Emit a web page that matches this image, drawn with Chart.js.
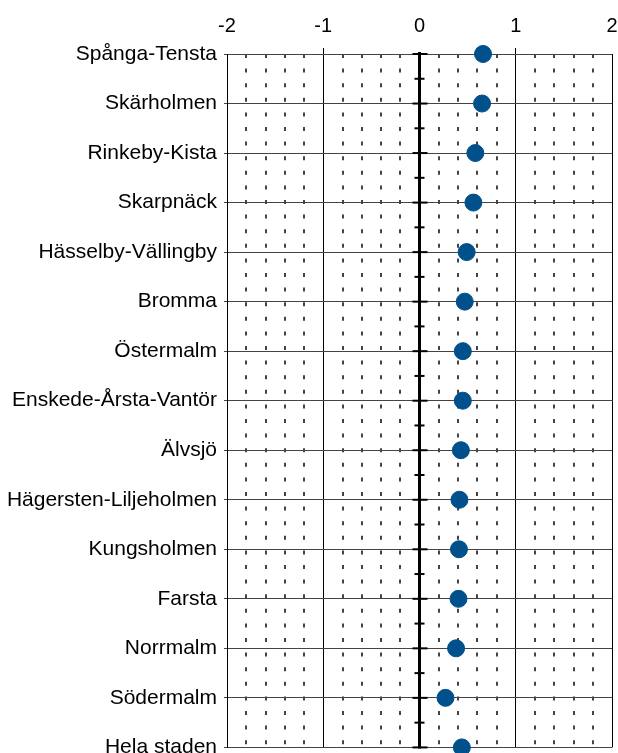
<!DOCTYPE html>
<html>
<head>
<meta charset="utf-8">
<script src="https://cdn.jsdelivr.net/npm/chart.js@4.4.1/dist/chart.umd.min.js"></script>
<style>
  html, body { margin: 0; padding: 0; background: #fff; overflow: hidden; }
  #wrap { position: relative; width: 618px; height: 767px; }
</style>
</head>
<body>
<div id="wrap"><canvas id="grafico"></canvas></div>
<script>
const omraden = ['Spånga-Tensta', 'Skärholmen', 'Rinkeby-Kista', 'Skarpnäck', 'Hässelby-Vällingby',
  'Bromma', 'Östermalm', 'Enskede-Årsta-Vantör', 'Älvsjö', 'Hägersten-Liljeholmen',
  'Kungsholmen', 'Farsta', 'Norrmalm', 'Södermalm', 'Hela staden'];
const varden = [0.66, 0.65, 0.58, 0.56, 0.49, 0.47, 0.45, 0.45, 0.43, 0.415, 0.41, 0.405, 0.38, 0.27, 0.44];
const xTicks = [-2, -1, 0, 1, 2];

const FONT = "'Liberation Sans', Arial, sans-serif";
const isInt = v => Math.abs(v - Math.round(v)) < 1e-6;

// thick zero axis with crossing tick marks
const nollAxel = {
  id: 'nollAxel',
  beforeDatasetsDraw(chart) {
    const { ctx, scales: { x, y } } = chart;
    const x0 = x.getPixelForValue(0);
    ctx.save();
    ctx.strokeStyle = '#000';
    ctx.lineWidth = 3;
    ctx.beginPath();
    ctx.moveTo(x0, y.getPixelForValue(0) - 2);
    ctx.lineTo(x0, y.getPixelForValue(omraden.length - 1) + 1);
    ctx.stroke();
    ctx.lineWidth = 2;
    for (let i = 0; i < omraden.length; i++) {
      const py = y.getPixelForValue(i);
      ctx.beginPath();
      ctx.moveTo(x0 - 7, py);
      ctx.lineTo(x0 + 8, py);
      ctx.stroke();
      if (i < omraden.length - 1) {
        const pm = y.getPixelForValue(i + 0.5);
        ctx.beginPath();
        ctx.moveTo(x0 - 5, pm);
        ctx.lineTo(x0 + 5, pm);
        ctx.stroke();
      }
    }
    ctx.restore();
  }
};

const nollPad = s => { s.paddingLeft = 0; s.paddingRight = 0; };

new Chart(document.getElementById('grafico'), {
  type: 'scatter',
  data: {
    datasets: [{
      data: varden.map((v, i) => ({ x: v, y: i })),
      backgroundColor: '#00508c',
      borderColor: '#00508c',
      pointRadius: 8.5,
      pointHoverRadius: 8.5,
      clip: false
    }]
  },
  options: {
    responsive: true,
    maintainAspectRatio: false,
    animation: false,
    events: [],
    layout: { autoPadding: false, padding: { left: 0, right: 6, top: 0, bottom: 0 } },
    plugins: { legend: { display: false }, tooltip: { enabled: false } },
    scales: {
      x: {
        type: 'linear',
        position: 'top',
        min: -2, max: 2,
        afterBuildTicks: s => { s.ticks = xTicks.map(v => ({ value: v })); },
        afterFit: s => { s.height = 54; nollPad(s); },
        ticks: { color: '#000', font: { family: FONT, size: 20 }, padding: 10 },
        grid: {
          color: '#000',
          lineWidth: 1,
          tickLength: 6,
          tickColor: c => (c.tick && Math.abs(c.tick.value) === 1) ? '#000' : 'rgba(0,0,0,0)'
        },
        border: { display: false }
      },
      x2: {
        type: 'linear',
        position: 'top',
        min: -2, max: 2,
        afterFit: s => { s.height = 0; nollPad(s); },
        ticks: { display: false, stepSize: 0.2 },
        grid: {
          drawTicks: false,
          color: c => (c.tick && !isInt(c.tick.value)) ? '#444' : 'rgba(0,0,0,0)',
          lineWidth: 2
        },
        border: { display: false, dash: [4, 10.6], dashOffset: 0 }
      },
      y: {
        type: 'linear',
        reverse: true,
        min: 0, max: omraden.length - 1,
        afterBuildTicks: s => { s.ticks = omraden.map((_, i) => ({ value: i })); },
        afterFit: s => { s.width = 227; },
        ticks: {
          autoSkip: false,
          color: '#000',
          padding: 7,
          font: { family: FONT, size: 21 },
          callback: v => omraden[v]
        },
        grid: { color: '#444', lineWidth: 1, tickLength: 3 },
        border: { color: '#000', width: 1 }
      }
    }
  },
  plugins: [nollAxel]
});
</script>
</body>
</html>
